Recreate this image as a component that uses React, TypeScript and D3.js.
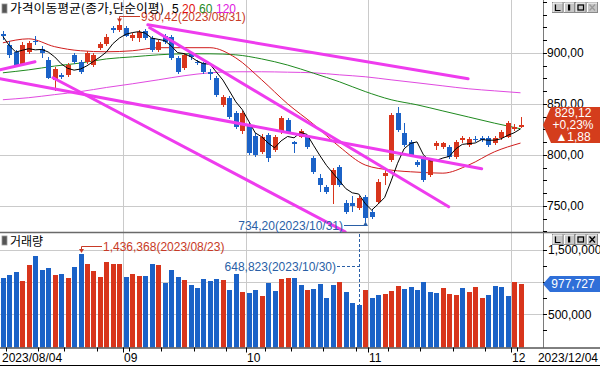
import React from 'react';
import * as d3 from 'd3';

const W = 600;
const H = 366;

// trading days (KOSDAQ, 2023)
const augDays = [4, 7, 8, 9, 10, 11, 14, 16, 17, 18, 21, 22, 23, 24, 25, 28, 29, 30, 31];
const sepDays = [1, 4, 5, 6, 7, 8, 11, 12, 13, 14, 15, 18, 19, 20, 21, 22, 25, 26, 27];
const octDays = [4, 5, 6, 10, 11, 12, 13, 16, 17, 18, 19, 20, 23, 24, 25, 26, 27, 30, 31];
const novDays = [1, 2, 3, 6, 7, 8, 9, 10, 13, 14, 15, 16, 17, 20, 21, 22, 23, 24, 27, 28, 29, 30];
const decDays = [1, 4];

const opens = [918, 908, 901, 888, 901, 912, 904, 893, 873.5, 878, 878, 898, 891, 891, 888, 905, 909, 924.5, 922.5, 924,
  914.7, 914.7, 921.6, 914.7, 903, 916.7, 915.7, 895, 885, 898.5, 891, 890, 881.4, 875.5, 849, 856, 841, 823,
  829, 818.6, 803, 819.6, 805, 822.5, 834, 812.7, 817.6, 817.6, 797, 777.5, 768.6, 770.6, 788, 753, 753, 748, 758.8,
  744, 754, 779.4, 795, 841, 821.6, 812.7, 793, 797, 780, 808.8, 807.8, 807.8, 798, 814.7, 809.8, 815.7, 816.7, 816.7, 811.8, 816.7, 817.6, 825.5, 827.5];
const highs = [921, 912, 903, 911, 912, 916, 907, 896, 886, 880, 890, 900, 893, 902, 900, 911, 918, 926, 930.42, 926,
  919, 922, 923, 916, 913, 918, 917, 897, 900, 901, 893, 891, 884, 877, 859, 858, 843, 843,
  831, 821, 820, 821.6, 819, 838, 836, 814, 825, 819, 799, 781, 770, 787, 790, 756, 760, 760, 761,
  747, 776, 785, 841, 847, 831, 815, 795, 799, 797, 813.7, 813, 810, 815, 818, 817, 818, 818, 818, 818, 824, 833, 830, 837];
const lows = [913, 895, 886, 887, 899, 908, 895, 874, 863, 874, 876, 889, 879, 889, 886, 903, 907, 919, 920, 915,
  911.8, 911, 913, 901, 901, 909, 893, 879, 883, 893, 888, 879, 873.5, 857, 847, 835, 825, 820,
  800, 798, 801, 793, 803, 820, 820, 802, 816, 806, 781, 764, 762, 752, 768, 742, 744, 746, 734.2,
  737, 752, 770.6, 793, 822, 808, 798, 788, 773, 778, 805, 806, 796, 796, 812, 808, 813, 813, 808, 810, 815, 816, 823, 826];
const closes = [916, 898, 888, 908, 910, 910.5, 900, 875.5, 884, 876.5, 888, 891, 881, 900, 898, 909, 915.7, 922, 927.5, 916.7,
  917, 920.6, 914.7, 903, 910.8, 910.8, 895, 881.4, 898, 896, 889.8, 881.4, 879.4, 858.8, 857, 837, 827.5, 841,
  802, 800, 817.6, 797, 817.6, 836, 821.6, 811, 823.5, 807.8, 783, 770.6, 763.7, 785.3, 770.6, 744, 750, 757.8, 738,
  739, 773.5, 782.4, 839, 824.5, 809.8, 800, 790, 775.5, 795, 811.8, 811.8, 798, 812.7, 816.7, 815.7, 814.7, 814.7, 809.8, 816.7, 822.5, 831.4, 827.24, 829.12];
// volume, thousands of shares
const volumes = [1058, 1109, 1151, 1016, 1266, 1406, 1188, 1219, 1109, 1125, 1058, 1229, 1436.368, 1281, 1172, 1073, 1313, 1281, 1281, 1073,
  1125, 1094, 1094, 1281, 1271, 990, 1188, 1078, 1031, 953, 906, 1047, 1021, 1047, 1031, 875, 1125, 844,
  828, 875, 781, 984, 859, 1047, 1060, 1060, 953, 875, 891, 979, 760, 953, 1010, 844, 677, 648.823, 875,
  760, 797, 813, 859, 938, 891, 922, 875, 1000, 844, 828, 906, 813, 797, 906, 844, 922, 750, 797, 938, 922, 781, 1000, 977.727];
// u = up (red) bar, d = down (blue) bar
const volDir = 'ddduudddududduuuuuuduuddudddudddddudduddudduudduddddudddudduuudddddduuuduuudddduuuu';

// moving averages (every 4th session)
const maIdx = [0, 4, 8, 12, 16, 20, 24, 28, 32, 36, 40, 44, 48, 52, 56, 60, 64, 68, 72, 76, 80];
const ma20 = [909.8, 913.7, 906, 902, 901, 902, 905, 905, 905, 895, 873.5, 850, 830, 808, 790, 785, 783, 782, 790, 803, 811.5];
const ma60 = [880.4, 883.3, 887, 890, 894, 896, 898, 899, 899, 898, 894, 888, 880, 871.6, 862, 854, 849, 843, 837, 831, 825.5];
const ma120 = [854, 856, 859, 862, 866, 869.6, 873.5, 877.5, 880.4, 881.4, 881.4, 881, 880.4, 878.4, 876.5, 873.5, 870.6, 867.6, 864.7, 862.7, 860.8];

// user-drawn trend lines (session index, price)
const trendStartIdx = [22.4, 22.7, -0.45, 7.74, -0.45];
const trendStartVal = [927.5, 924.5, 874.5, 875.5, 883.3];
const trendEndIdx = [71.9, 68.9, 74.0, 52.9, 4.96];
const trendEndVal = [874.5, 749.0, 786.3, 724.5, 891.2];

const priceTicks = [750, 800, 850, 900];
const volGridTicks = [500000, 1000000, 1500000];
const volLabelTicks = [500000, 1500000];

const RED = '#d8351c';
const BLUE = '#1b62c7';
const GRID = '#cacaca';
const NUM_FONT = '"Liberation Sans", Arial, sans-serif';
const KR_FONT = '"Noto Sans CJK KR", "Noto Sans", sans-serif';

function Buttons({ y0, xDim }: { y0: number; xDim: boolean }) {
  const items = [0, 1, 2, 3];
  return (
    <g>
      {items.map((k) => {
        const bx = 552 + k * 11.5;
        return (
          <g key={k}>
            <rect x={bx + 0.5} y={y0 + 0.5} width={10.5} height={10} fill="#c6c6c6" stroke="#8a8a8a" />
            <line x1={bx + 1} y1={y0 + 1} x2={bx + 10.5} y2={y0 + 1} stroke="#ffffff" />
            <line x1={bx + 1} y1={y0 + 1} x2={bx + 1} y2={y0 + 10} stroke="#ffffff" />
            {k === 0 && <path d={`M${bx + 3.5},${y0 + 2.5}V${y0 + 8.5}H${bx + 8.5}`} stroke="#000" fill="none" strokeWidth={1.2} />}
            {k === 1 && <rect x={bx + 4.5} y={y0 + 2.5} width={2.2} height={6} fill="#000" />}
            {k === 2 && <rect x={bx + 3} y={y0 + 3} width={5.5} height={5} stroke="#000" strokeWidth={1.2} fill="none" />}
            {k === 3 && (
              <path d={`M${bx + 3},${y0 + 2.5}L${bx + 8.5},${y0 + 8.5}M${bx + 8.5},${y0 + 2.5}L${bx + 3},${y0 + 8.5}`}
                stroke={xDim ? '#9a9a9a' : '#000'} strokeWidth={1.3} />
            )}
          </g>
        );
      })}
    </g>
  );
}

export default function App() {
  const months = [augDays, sepDays, octDays, novDays, decDays];
  const dates: Date[] = [];
  months.forEach((days, m) => days.forEach((d) => dates.push(new Date(2023, 7 + m, d))));
  const N = closes.length;

  const axisX = 543;
  const priceBottom = 232;
  const volBottom = 347.5;

  const x = d3.scaleLinear().domain([0, N - 1]).range([2.9, 520.5]);
  const y = d3.scaleLinear().domain([750, 900]).range([205.8, 52.8]);
  const yv = d3.scaleLinear().domain([0, 1500000]).range([346.5, 250]);
  const step = x(1) - x(0);
  const px = (i: number) => Math.round(x(i));

  const monthStarts: number[] = [];
  const weekStarts: number[] = [];
  for (let i = 1; i < N; i++) {
    if (dates[i].getMonth() !== dates[i - 1].getMonth()) monthStarts.push(i);
    else if (+d3.timeMonday.floor(dates[i]) !== +d3.timeMonday.floor(dates[i - 1])) weekStarts.push(i);
  }
  const boundary = (i: number) => Math.round(x(i) - step / 2) + 0.5;
  const fmtMonth = d3.timeFormat('%m');
  const fmtFull = d3.timeFormat('%Y/%m/%d');

  const ma5 = closes.map((_, i) => d3.mean(closes.slice(Math.max(0, i - 4), i + 1)) as number);
  const line = d3.line<number>().x((_, k) => x(k)).y((v) => y(v));
  const maLine = d3.line<number>().x((_, k) => x(maIdx[k])).y((v) => y(v)).curve(d3.curveMonotoneX);

  const minorPrice = d3.range(725, 951, 12.5);
  const minorVol = d3.range(250000, 1500001, 250000);

  const hiIdx = d3.maxIndex(highs);
  const loIdx = d3.minIndex(lows);
  const vMaxIdx = d3.maxIndex(volumes);
  const vMinIdx = d3.minIndex(volumes);
  const last = closes[N - 1];
  const prev = closes[N - 2];
  const chg = last - prev;
  const pct = (chg / prev) * 100;
  const fmt2 = (v: number) => v.toFixed(2).replace('.', ',');
  const fmtInt = d3.format(',.0f');

  const lastY = Math.round(y(last));
  const lastVY = Math.round(yv(volumes[N - 1] * 1000));

  return (
    <svg width={W} height={H} style={{ position: 'fixed', left: 0, top: 0, background: '#fff' }}
      xmlns="http://www.w3.org/2000/svg">
      <defs>
        <clipPath id="pclip"><rect x={0} y={0} width={axisX} height={priceBottom} /></clipPath>
        <clipPath id="vclip"><rect x={0} y={priceBottom + 1} width={axisX} height={volBottom - priceBottom - 1} /></clipPath>
      </defs>
      <rect x={0} y={0} width={W} height={H} fill="#fff" />

      {/* grids */}
      {monthStarts.map((i) => (
        <g key={'g' + i}>
          <line x1={boundary(i)} x2={boundary(i)} y1={0} y2={priceBottom} stroke={GRID} />
          <line x1={boundary(i)} x2={boundary(i)} y1={priceBottom} y2={volBottom} stroke={GRID} />
        </g>
      ))}
      {priceTicks.map((t) => (
        <line key={'pg' + t} x1={0} x2={axisX} y1={Math.round(y(t)) + 0.5} y2={Math.round(y(t)) + 0.5} stroke={GRID} />
      ))}
      {volGridTicks.map((t) => (
        <line key={'vg' + t} x1={0} x2={axisX} y1={Math.round(yv(t)) + 0.5} y2={Math.round(yv(t)) + 0.5} stroke={GRID} />
      ))}

      {/* price panel */}
      <g clipPath="url(#pclip)">
        <path d={maLine(ma120) || ''} fill="none" stroke="#e04ae0" strokeWidth={1} />
        <path d={maLine(ma60) || ''} fill="none" stroke="#1f8a1f" strokeWidth={1} />
        <path d={maLine(ma20) || ''} fill="none" stroke="#d01c1c" strokeWidth={1} />
        {closes.map((c, i) => {
          const o = opens[i];
          const up = c >= o;
          const col = up ? RED : BLUE;
          const top = Math.round(y(Math.max(o, c)));
          const bot = Math.round(y(Math.min(o, c)));
          const cx = px(i);
          return (
            <g key={'c' + i}>
              <line x1={cx + 0.5} x2={cx + 0.5} y1={Math.round(y(highs[i]))} y2={Math.round(y(lows[i]))} stroke={col} />
              <rect x={cx - 2} y={top} width={5} height={Math.max(1, bot - top)} fill={col} />
            </g>
          );
        })}
        <path d={line(ma5) || ''} fill="none" stroke="#000" strokeWidth={1} />
        {trendStartIdx.map((s, k) => (
          <line key={'t' + k} x1={x(s)} y1={y(trendStartVal[k])} x2={x(trendEndIdx[k])} y2={y(trendEndVal[k])}
            stroke="#ee3cee" strokeWidth={3} strokeLinecap="round" />
        ))}
      </g>

      {/* volume panel */}
      <g clipPath="url(#vclip)">
        {volumes.map((v, i) => {
          const top = Math.round(yv(v * 1000));
          return <rect key={'v' + i} x={px(i) - 2} y={top} width={5} height={volBottom - top} fill={volDir[i] === 'u' ? RED : BLUE} />;
        })}
      </g>

      {/* panel separator and axes */}
      <line x1={0} x2={W} y1={priceBottom + 0.5} y2={priceBottom + 0.5} stroke="#6a6a6a" strokeWidth={1.5} />
      <line x1={axisX + 0.5} x2={axisX + 0.5} y1={0} y2={volBottom} stroke="#7a7a7a" />
      <line x1={0} x2={W} y1={volBottom + 0.5} y2={volBottom + 0.5} stroke="#000" />
      <line x1={0} x2={W} y1={H - 0.5} y2={H - 0.5} stroke="#000" />

      {/* price axis */}
      {minorPrice.map((t) => (
        <line key={'pt' + t} x1={axisX} x2={axisX + 4} y1={Math.round(y(t)) + 0.5} y2={Math.round(y(t)) + 0.5} stroke="#000" />
      ))}
      {priceTicks.map((t) => (
        <text key={'pl' + t} x={axisX + 4} y={y(t)} dy="0.36em" fontFamily={NUM_FONT} fontSize={12} fill="#000">
          {fmt2(t)}
        </text>
      ))}

      {/* volume axis */}
      {minorVol.map((t) => (
        <line key={'vt' + t} x1={axisX} x2={axisX + 4} y1={Math.round(yv(t)) + 0.5} y2={Math.round(yv(t)) + 0.5} stroke="#000" />
      ))}
      {volLabelTicks.map((t) => (
        <text key={'vl' + t} x={axisX + 5} y={yv(t)} dy="0.36em" fontFamily={NUM_FONT} fontSize={12} fill="#000">
          {fmtInt(t)}
        </text>
      ))}

      {/* date axis */}
      {weekStarts.map((i) => (
        <line key={'wt' + i} x1={boundary(i)} x2={boundary(i)} y1={volBottom} y2={volBottom + 4} stroke="#000" />
      ))}
      {monthStarts.map((i) => (
        <g key={'mt' + i}>
          <line x1={boundary(i)} x2={boundary(i)} y1={volBottom} y2={volBottom + 5} stroke="#000" />
          <text x={boundary(i) + 0.5} y={362} fontFamily={NUM_FONT} fontSize={12} fill="#000">{fmtMonth(dates[i])}</text>
        </g>
      ))}
      <text x={2} y={362} fontFamily={NUM_FONT} fontSize={12} fill="#000">{fmtFull(dates[0])}</text>
      <text x={598} y={362} textAnchor="end" fontFamily={NUM_FONT} fontSize={12} fill="#000">{fmtFull(dates[N - 1])}</text>

      {/* annotations: price */}
      <path d={`M${px(hiIdx) + 21},16.5H${px(hiIdx) + 0.5}V21`} stroke="#c83a26" fill="none" />
      <path d={`M${px(hiIdx) - 2},18.5L${px(hiIdx) + 0.5},22.5L${px(hiIdx) + 3},18.5Z`} fill="#c83a26" />
      <text x={px(hiIdx) + 22} y={21} fontFamily={NUM_FONT} fontSize={12} fill="#c83a26">
        {`${fmt2(highs[hiIdx])}(${fmtFull(dates[hiIdx])})`}
      </text>
      <text x={px(loIdx) - 22} y={229.5} textAnchor="end" fontFamily={NUM_FONT} fontSize={12} fill="#2a5fa6">
        {`${fmt2(lows[loIdx])}(${fmtFull(dates[loIdx])})`}
      </text>
      <path d={`M${px(loIdx) - 21},225.5H${px(loIdx) - 1}`} stroke="#2a5fa6" fill="none" />
      <path d={`M${px(loIdx) - 2},226L${px(loIdx) + 0.5},221.5L${px(loIdx) + 3},226Z`} fill="#2a5fa6" />

      {/* annotations: volume */}
      <path d={`M${px(vMaxIdx) + 21},246.5H${px(vMaxIdx) + 0.5}V251`} stroke="#c83a26" fill="none" />
      <path d={`M${px(vMaxIdx) - 2},249L${px(vMaxIdx) + 0.5},253L${px(vMaxIdx) + 3},249Z`} fill="#c83a26" />
      <text x={px(vMaxIdx) + 22} y={251} fontFamily={NUM_FONT} fontSize={12} fill="#c83a26">
        {`${fmtInt(volumes[vMaxIdx] * 1000)}(${fmtFull(dates[vMaxIdx])})`}
      </text>
      <text x={px(vMinIdx) - 23} y={270.5} textAnchor="end" fontFamily={NUM_FONT} fontSize={12} fill="#2a5fa6">
        {`${fmtInt(volumes[vMinIdx] * 1000)}(${fmtFull(dates[vMinIdx])})`}
      </text>
      <line x1={px(vMinIdx) - 22} x2={px(vMinIdx)} y1={266.5} y2={266.5} stroke="#2a5fa6" strokeDasharray="3,2" />
      <line x1={px(vMinIdx) + 0.5} x2={px(vMinIdx) + 0.5} y1={234} y2={Math.round(yv(volumes[vMinIdx] * 1000))}
        stroke="#2a5fa6" strokeDasharray="3,2" />

      {/* legends */}
      <rect x={2} y={4} width={5} height={9} fill="#555" stroke="#999" strokeWidth={0.8} />
      <text x={10} y={13} fontFamily={KR_FONT} fontSize={12} fill="#000" textLength={154} lengthAdjust="spacingAndGlyphs">
        가격이동평균(종가,단순이평)
      </text>
      <text x={172} y={12.5} fontFamily={NUM_FONT} fontSize={12} fill="#000">5</text>
      <text x={182} y={12.5} fontFamily={NUM_FONT} fontSize={12} fill="#e01010">20</text>
      <text x={199} y={12.5} fontFamily={NUM_FONT} fontSize={12} fill="#1f8a1f">60</text>
      <text x={216} y={12.5} fontFamily={NUM_FONT} fontSize={12} fill="#e020e0">120</text>

      <rect x={2} y={236} width={5} height={9} fill="#555" stroke="#999" strokeWidth={0.8} />
      <text x={10} y={246} fontFamily={KR_FONT} fontSize={12} fill="#000">거래량</text>

      <Buttons y0={2} xDim={true} />
      <Buttons y0={234} xDim={false} />

      {/* last-value badges */}
      <path d={`M${axisX},${lastY}L${axisX + 8},${lastY - 18}H${W}V${lastY + 18}H${axisX + 8}Z`} fill="#d43d1c" />
      <text x={573} y={lastY - 12} dy="0.36em" textAnchor="middle" fontFamily={NUM_FONT} fontSize={12} fill="#fff">{fmt2(last)}</text>
      <text x={573} y={lastY} dy="0.36em" textAnchor="middle" fontFamily={NUM_FONT} fontSize={12} fill="#fff">
        {`${chg >= 0 ? '+' : ''}${fmt2(pct)}%`}
      </text>
      <text x={573} y={lastY + 12} dy="0.36em" textAnchor="middle" fontFamily={NUM_FONT} fontSize={12} fill="#fff">
        {`${chg >= 0 ? '▲' : '▼'}${fmt2(Math.abs(chg))}`}
      </text>

      <path d={`M${axisX},${lastVY}L${axisX + 7},${lastVY - 8}H${W}V${lastVY + 8}H${axisX + 7}Z`} fill="#2f6fd8" />
      <text x={573} y={lastVY} dy="0.36em" textAnchor="middle" fontFamily={NUM_FONT} fontSize={12} fill="#fff">
        {fmtInt(volumes[N - 1] * 1000)}
      </text>
    </svg>
  );
}
